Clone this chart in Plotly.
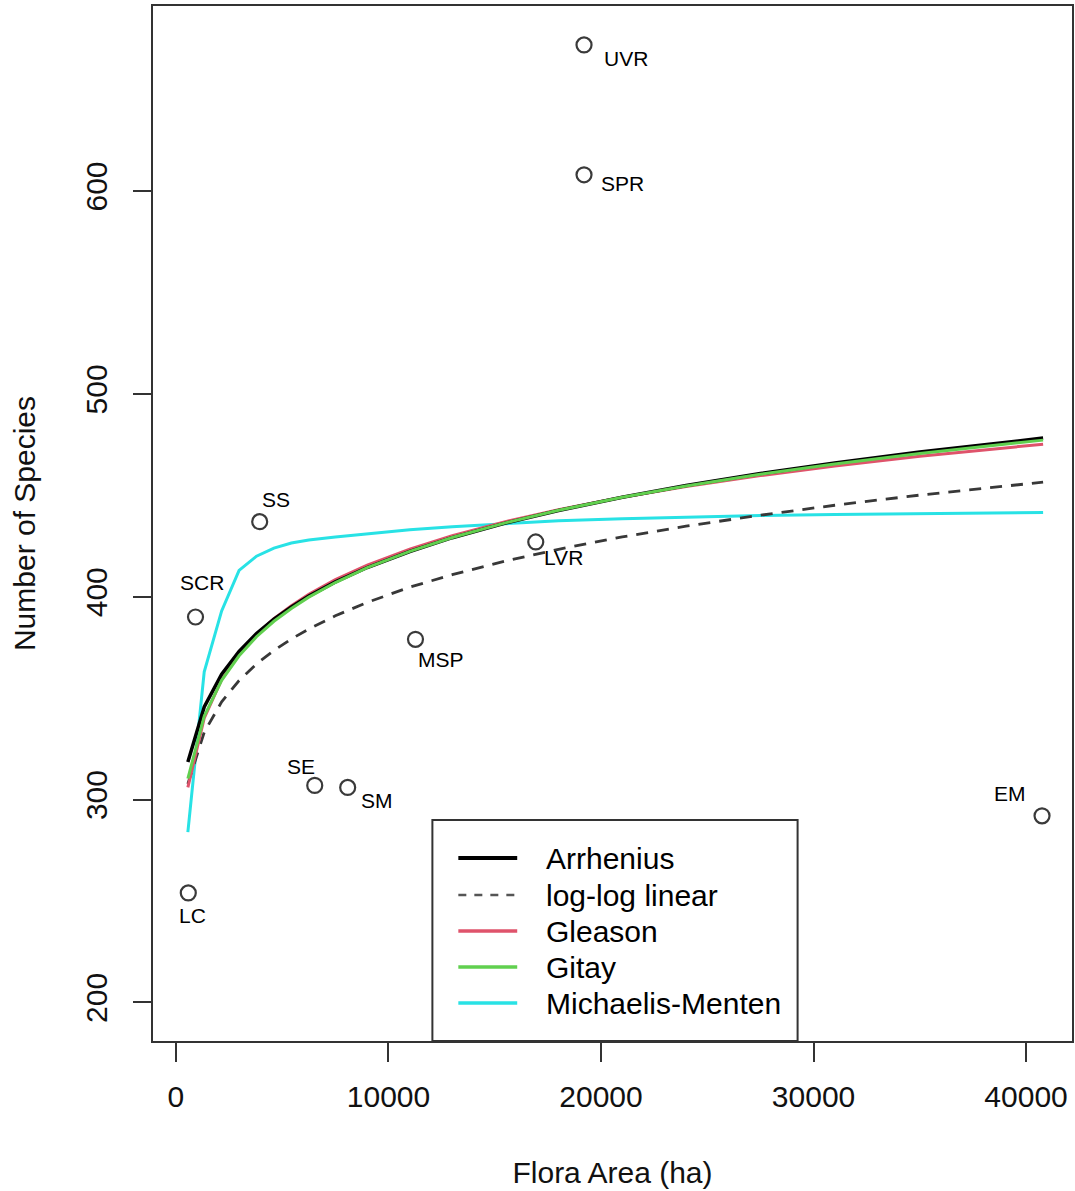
import plotly.graph_objects as go

# ---------------- data ----------------
site_names = ["UVR", "SPR", "SS", "SCR", "LVR", "MSP", "SE", "SM", "EM", "LC"]
site_area = [19200, 19200, 3940, 920, 16930, 11270, 6530, 8080, 40750, 580]
site_species = [672, 608, 437, 390, 427, 379, 307, 306, 292, 254]

fit_area = [560, 1330, 2150, 2970, 3790, 4610, 5430, 6250, 7500, 9000, 11000,
            13000, 15500, 18000, 21000, 24000, 27500, 31000, 35000, 38000, 40800]
arrhenius = [318.5, 345.7, 361.8, 373.0, 381.8, 388.9, 395.0, 400.3, 407.3, 414.4, 422.3,
             429.1, 436.3, 442.5, 449.0, 454.8, 460.7, 465.9, 471.3, 475.0, 478.2]
loglog_linear = [307.7, 333.2, 348.2, 358.7, 366.9, 373.5, 379.2, 384.1, 390.6, 397.2, 404.7,
                 410.9, 417.6, 423.4, 429.5, 434.8, 440.2, 445.1, 450.1, 453.5, 456.5]
gleason = [306.0, 340.1, 359.1, 371.8, 381.5, 389.2, 395.6, 401.2, 408.4, 415.6, 423.5,
           430.1, 437.0, 442.9, 449.0, 454.3, 459.7, 464.4, 469.2, 472.4, 475.2]
gitay = [310.3, 341.1, 358.8, 370.9, 380.3, 387.9, 394.2, 399.8, 407.0, 414.3, 422.4,
         429.2, 436.4, 442.6, 449.0, 454.6, 460.4, 465.4, 470.6, 474.1, 477.2]
michaelis_menten = [284.0, 363.0, 393.0, 413.0, 420.0, 424.0, 426.5, 428.0, 429.5, 431.0, 433.0,
                    434.5, 436.0, 437.5, 438.5, 439.3, 440.0, 440.5, 441.0, 441.3, 441.5]

x_ticks = [0, 10000, 20000, 30000, 40000]
y_ticks = [200, 300, 400, 500, 600]

# label offsets in pixels (dx right, dy down)
label_offsets = {"UVR": (42, 14), "SPR": (38, 9), "SS": (16, -22), "SCR": (6, -35),
                 "LVR": (28, 16), "MSP": (26, 20), "SE": (-14, -19), "SM": (29, 13),
                 "EM": (-32, -22), "LC": (4, 23)}

# ---------------- layout geometry ----------------
W, H = 1075, 1191
L, R_, T, B = 153, 1, 6, 150
PW, PH = W - L - R_, H - T - B
FONT = "Liberation Sans, Arial, sans-serif"
AXC = "#333333"

def px_to_paper(px, py):
    return (px - L) / PW, (H - B - py) / PH

fig = go.Figure()

curves = [
    ("Arrhenius", arrhenius, "#000000", "solid", 3.5),
    ("log-log linear", loglog_linear, "#383838", "12px,9px", 2.8),
    ("Gleason", gleason, "#DF536B", "solid", 3),
    ("Gitay", gitay, "#61D04F", "solid", 3),
    ("Michaelis-Menten", michaelis_menten, "#28E2E5", "solid", 3),
]
draw_order = [4, 1, 2, 0, 3]
for i in draw_order:
    name, vals, col, dash, w = curves[i]
    fig.add_trace(go.Scatter(x=fit_area, y=vals, mode="lines", name=name,
                             line=dict(color=col, width=w, dash=dash),
                             showlegend=False, hoverinfo="skip"))

fig.add_trace(go.Scatter(x=site_area, y=site_species, mode="markers", name="sites",
                         marker=dict(symbol="circle-open", size=15,
                                     line=dict(color="#3a3a3a", width=2.2), color="#3a3a3a"),
                         showlegend=False))

annotations = []
for n, a, s in zip(site_names, site_area, site_species):
    dx, dy = label_offsets[n]
    annotations.append(dict(x=a, y=s, xref="x", yref="y", text=n, showarrow=False,
                            xshift=dx, yshift=-dy,
                            font=dict(family=FONT, size=21, color="#000000")))

# custom legend
shapes = []
bx0, by0 = px_to_paper(433, 1041)
bx1, by1 = px_to_paper(799, 820)
shapes.append(dict(type="rect", xref="paper", yref="paper", x0=bx0, y0=by0, x1=bx1, y1=by1,
                   line=dict(color=AXC, width=2), fillcolor="rgba(255,255,255,0)", layer="above"))
row_y = [858, 895, 931, 967, 1003]
legend_styles = [("#000000", "solid", 4), ("#555555", "8px,8px", 2.5),
                 ("#DF536B", "solid", 3.5), ("#61D04F", "solid", 3.5), ("#28E2E5", "solid", 3.5)]
for (name, _, _, _, _), (col, dash, w), ry in zip(curves, legend_styles, row_y):
    lx0, ly = px_to_paper(459, ry)
    lx1, _ = px_to_paper(518, ry)
    shapes.append(dict(type="line", xref="paper", yref="paper", x0=lx0, x1=lx1, y0=ly, y1=ly,
                       line=dict(color=col, width=w, dash=dash)))
    tx, ty = px_to_paper(545, ry)
    annotations.append(dict(x=tx, y=ty, xref="paper", yref="paper", text=name, showarrow=False,
                            xanchor="left", yanchor="middle",
                            font=dict(family=FONT, size=30, color="#000000")))

fig.update_layout(
    width=W, height=H,
    margin=dict(l=L, r=R_, t=T, b=B, pad=0),
    paper_bgcolor="white", plot_bgcolor="white",
    font=dict(family=FONT, size=30, color="#000000"),
    showlegend=False,
    annotations=annotations,
    shapes=shapes,
    xaxis=dict(range=[-1080, 42160], tickvals=x_ticks, ticktext=[str(v) for v in x_ticks],
               showgrid=False, zeroline=False, showline=True, mirror=True,
               linecolor=AXC, linewidth=2, ticks="outside", ticklen=19, tickwidth=2,
               tickcolor=AXC, ticklabelstandoff=9,
               tickfont=dict(family=FONT, size=30, color="#111111"),
               title=dict(text="Flora Area (ha)", standoff=50,
                          font=dict(family=FONT, size=30, color="#111111"))),
    yaxis=dict(range=[181.0, 691.2], tickvals=y_ticks, ticktext=[str(v) for v in y_ticks],
               showgrid=False, zeroline=False, showline=True, mirror=True,
               linecolor=AXC, linewidth=2, ticks="outside", ticklen=18, tickwidth=2,
               tickcolor=AXC, tickangle=-90, ticklabelstandoff=14,
               tickfont=dict(family=FONT, size=30, color="#111111"),
               title=dict(text="Number of Species", standoff=36,
                          font=dict(family=FONT, size=30, color="#111111"))),
)

fig.write_html("out.html", config={"displayModeBar": False},
               post_script="document.body.style.margin='0';document.body.style.overflow='hidden';")
